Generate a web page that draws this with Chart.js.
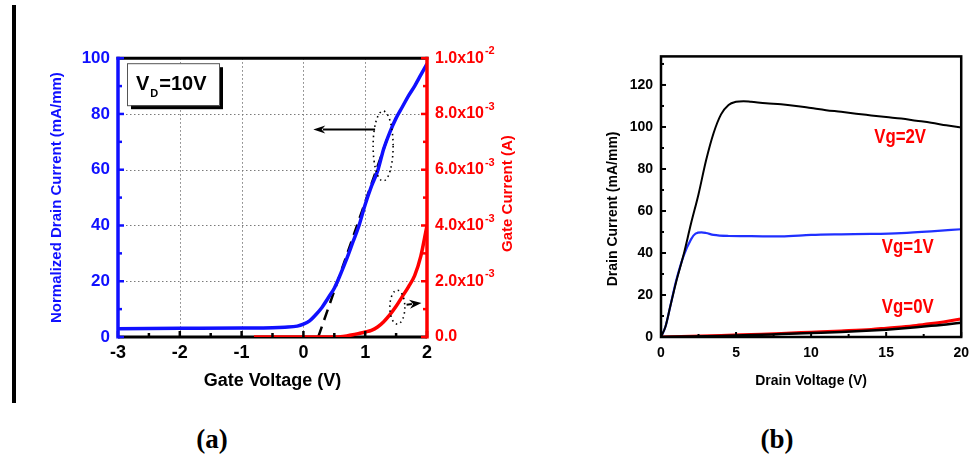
<!DOCTYPE html>
<html>
<head>
<meta charset="utf-8">
<script src="https://cdn.jsdelivr.net/npm/chart.js@4.4.0/dist/chart.umd.min.js"></script>
<style>
    body { margin: 0; background: #fff; width: 977px; height: 458px; position: relative; overflow: hidden; }
    #panelA { position: absolute; left: 20px; top: 40px; }
    #panelB { position: absolute; left: 590px; top: 40px; }
    .rule { position: absolute; left: 12px; top: 5px; width: 4px; height: 398px; background: #000; }
    .cap { position: absolute; top: 424px; width: 60px; text-align: center; font: bold 27px "Liberation Serif", "Times New Roman", serif; color: #000; }
</style>
</head>
<body>
<div class="rule"></div>
<canvas id="panelA" width="520" height="370"></canvas>
<canvas id="panelB" width="387" height="370"></canvas>
<div class="cap" style="left:182px">(a)</div>
<div class="cap" style="left:747px">(b)</div>
<script>
Chart.defaults.font.family = '"Liberation Sans", Arial, sans-serif';
Chart.defaults.plugins.legend.display = false;
Chart.defaults.plugins.tooltip.enabled = false;
Chart.defaults.animation = false;

// ---- (a) transfer characteristics, VD = 10 V ----
const vgDrain = [-3, -2, -1, -0.5, -0.3, -0.1, 0, 0.1, 0.2, 0.3, 0.4, 0.5, 0.6, 0.7, 0.8, 0.9, 1.0, 1.1, 1.2, 1.3, 1.4, 1.5, 1.6, 1.7, 1.8, 1.9, 2.0];
const idNorm = [3.0, 3.1, 3.2, 3.3, 3.5, 3.9, 4.6, 5.8, 8.0, 10.6, 14.0, 17.5, 22.5, 28.0, 34.0, 40.0, 47.5, 54.0, 59.5, 67.5, 73.5, 78.5, 82.5, 86.5, 90.0, 94.0, 98.0];
const vgGate = [-0.8, 0.5, 0.6, 0.7, 0.8, 0.9, 1.0, 1.1, 1.2, 1.3, 1.4, 1.5, 1.6, 1.7, 1.8, 1.9, 2.0];
const igGate = [0, 0, 0.01e-3, 0.04e-3, 0.08e-3, 0.13e-3, 0.18e-3, 0.24e-3, 0.36e-3, 0.55e-3, 0.8e-3, 1.1e-3, 1.45e-3, 1.8e-3, 2.2e-3, 2.9e-3, 4.0e-3];
// linear extrapolation used for the threshold voltage
const vgFit = [0.24, 1.37];
const idFit = [0, 72];

const vgTicks = [-3, -2, -1, 0, 1, 2];
const idTicks = [0, 20, 40, 60, 80, 100];
const igTicks = [0, 2e-3, 4e-3, 6e-3, 8e-3, 1e-2];
const igMantissa = ['0.0', '2.0x10', '4.0x10', '6.0x10', '8.0x10', '1.0x10'];
const igExponent = ['', '-3', '-3', '-3', '-3', '-2'];

// ---- (b) output characteristics ----
const vdSweep = [0, 0.3, 0.6, 1.0, 1.5, 2.0, 2.5, 3.0, 3.5, 4.0, 4.5, 5.0, 5.5, 6, 7, 8, 9, 10, 11, 12, 13, 14, 15, 16, 17, 18, 19, 20];
const idVg2 = [0, 5, 14, 26, 39, 54, 68, 84, 97, 106, 110.5, 112, 112.3, 112, 111.3, 110.8, 110, 109, 108, 107.2, 106.3, 105.5, 104.7, 104, 103, 102, 100.8, 99.7];
const vdSweep1 = [0, 0.3, 0.6, 1.0, 1.5, 2.0, 2.3, 2.7, 3.0, 3.5, 4.5, 6, 8, 10, 12, 14, 16, 18, 20];
const idVg1 = [0, 5, 14, 26.5, 38.5, 46.5, 49.2, 49.8, 49.5, 48.6, 48.1, 48.0, 47.9, 48.6, 48.9, 49.1, 49.5, 50.3, 51.3];
const vdSweep0 = [0, 2, 4, 6, 8, 10, 12, 14, 15, 16, 17, 18, 19, 20];
const idVg0Red = [0, 0.3, 0.7, 1.2, 1.7, 2.3, 2.9, 3.6, 4.2, 4.8, 5.5, 6.4, 7.4, 8.6];
const idVg0Black = [0, 0.2, 0.5, 0.9, 1.4, 1.9, 2.4, 3.1, 3.5, 4.0, 4.6, 5.3, 6.0, 6.8];
const vdTicks = [0, 5, 10, 15, 20];
const idTicksB = [0, 20, 40, 60, 80, 100, 120];
const vgLabels = ['Vg=2V', 'Vg=1V', 'Vg=0V'];
const vgLabelAt = [[15.93, 95.2], [16.44, 42.7], [16.44, 14.0]];

const pts = (xs, ys) => xs.map((x, i) => ({ x: x, y: ys[i] }));
const BLUE = '#1010ff';
const RED = '#ff0000';
const FONT = '"Liberation Sans", Arial, sans-serif';

function hline(ctx, x0, x1, y) { ctx.beginPath(); ctx.moveTo(x0, y); ctx.lineTo(x1, y); ctx.stroke(); }
function vline(ctx, x, y0, y1) { ctx.beginPath(); ctx.moveTo(x, y0); ctx.lineTo(x, y1); ctx.stroke(); }

function arrow(ctx, x0, y0, x1, y1, head, half) {
    const ang = Math.atan2(y1 - y0, x1 - x0);
    const c = Math.cos(ang), s = Math.sin(ang);
    ctx.beginPath();
    ctx.moveTo(x0, y0);
    ctx.lineTo(x1 - c * head * 0.8, y1 - s * head * 0.8);
    ctx.stroke();
    ctx.beginPath();
    ctx.moveTo(x1, y1);
    ctx.lineTo(x1 - c * head - s * half, y1 - s * head + c * half);
    ctx.lineTo(x1 - c * head * 0.7, y1 - s * head * 0.7);
    ctx.lineTo(x1 - c * head + s * half, y1 - s * head - c * half);
    ctx.closePath();
    ctx.fill();
}

function dottedEllipse(ctx, cx, cy, rx, ry) {
    ctx.save();
    ctx.setLineDash([1.5, 3.5]);
    ctx.lineWidth = 1.6;
    ctx.beginPath();
    ctx.ellipse(cx, cy, rx, ry, 0, 0, Math.PI * 2);
    ctx.stroke();
    ctx.restore();
}

// vertical axis title reading bottom to top
function sideTitle(ctx, text, cx, cy, font, color) {
    ctx.save();
    ctx.translate(cx, cy);
    ctx.rotate(-Math.PI / 2);
    ctx.textAlign = 'center';
    ctx.textBaseline = 'middle';
    ctx.font = font;
    ctx.fillStyle = color;
    ctx.fillText(text, 0, 0);
    ctx.restore();
}

const frameA = {
    id: 'frameA',
    beforeDatasetsDraw(chart) {
        const { ctx, chartArea: a, scales: { x, y } } = chart;
        ctx.save();
        ctx.strokeStyle = '#7a7a7a';
        ctx.lineWidth = 1;
        ctx.setLineDash([1.5, 2.5]);
        vgTicks.slice(1, -1).forEach(v => vline(ctx, Math.round(x.getPixelForValue(v)) + 0.5, a.top, a.bottom));
        idTicks.slice(1, -1).forEach(v => hline(ctx, a.left, a.right, Math.round(y.getPixelForValue(v)) + 0.5));
        ctx.setLineDash([]);
        ctx.strokeStyle = '#000';
        ctx.lineWidth = 3;
        hline(ctx, a.left, a.right, a.bottom);
        ctx.restore();
    },
    afterDatasetsDraw(chart) {
        const { ctx, chartArea: a, scales: { x, y, y2 } } = chart;
        ctx.save();
        // axes
        ctx.lineWidth = 3;
        ctx.strokeStyle = '#000';
        hline(ctx, a.left - 1.5, a.right + 1.5, a.top);
        ctx.lineWidth = 2.5;
        for (let v = -3; v <= 2.001; v += 0.5) {
            vline(ctx, x.getPixelForValue(v), a.bottom, a.bottom - (Number.isInteger(v) ? 6 : 4));
        }
        ctx.strokeStyle = BLUE;
        ctx.lineWidth = 3.5;
        vline(ctx, a.left, a.top - 1.5, a.bottom + 1.5);
        ctx.lineWidth = 2.5;
        for (let v = 0; v <= 100; v += 10) {
            hline(ctx, a.left, a.left + (v % 20 === 0 ? 6 : 4), y.getPixelForValue(v));
        }
        ctx.strokeStyle = RED;
        ctx.lineWidth = 3.5;
        vline(ctx, a.right, a.top - 1.5, a.bottom + 1.5);
        ctx.lineWidth = 2.5;
        for (let i = 0; i <= 10; i++) {
            hline(ctx, a.right, a.right - (i % 2 === 0 ? 6 : 4), y2.getPixelForValue(i * 1e-3));
        }

        // gate current tick labels with raised exponents, and the axis title
        ctx.fillStyle = RED;
        ctx.textBaseline = 'middle';
        igTicks.forEach((v, i) => {
            const py = y2.getPixelForValue(v);
            const lx = a.right + 8;
            ctx.font = 'bold 16px ' + FONT;
            ctx.fillText(igMantissa[i], lx, py);
            if (igExponent[i]) {
                const w = ctx.measureText(igMantissa[i]).width;
                ctx.font = 'bold 11px ' + FONT;
                ctx.fillText(igExponent[i], lx + w + 1, py - 7);
            }
        });
        sideTitle(ctx, 'Gate Current (A)', a.right + 81, (a.top + a.bottom) / 2 - 4, 'bold 15px ' + FONT, RED);

        // arrows and dotted loops marking which axis each curve belongs to
        ctx.strokeStyle = '#000';
        ctx.fillStyle = '#000';
        ctx.lineWidth = 2;
        arrow(ctx, x.getPixelForValue(1.16), y.getPixelForValue(74.4), x.getPixelForValue(0.16), y.getPixelForValue(74.4), 12, 4);
        arrow(ctx, x.getPixelForValue(1.67), y.getPixelForValue(11.6), x.getPixelForValue(1.91), y.getPixelForValue(12.2), 12, 4.5);
        dottedEllipse(ctx, x.getPixelForValue(1.29), y.getPixelForValue(68.5), 10, 35);
        dottedEllipse(ctx, x.getPixelForValue(1.52), y.getPixelForValue(10.7), 7.5, 17);

        // VD label box with drop shadow
        const bx = a.left + 9, by = a.top + 5, bw = 92, bh = 42;
        ctx.fillStyle = '#000';
        ctx.fillRect(bx + 4, by + 4, bw, bh);
        ctx.fillStyle = '#fff';
        ctx.fillRect(bx, by, bw, bh);
        ctx.strokeStyle = '#555';
        ctx.lineWidth = 1;
        ctx.strokeRect(bx + 0.5, by + 0.5, bw, bh);
        ctx.fillStyle = '#000';
        ctx.textBaseline = 'alphabetic';
        ctx.font = 'bold 20px ' + FONT;
        let tx = bx + 9;
        ctx.fillText('V', tx, by + 27);
        tx += ctx.measureText('V').width + 1;
        ctx.font = 'bold 11px ' + FONT;
        ctx.fillText('D', tx, by + 34);
        tx += ctx.measureText('D').width + 1;
        ctx.font = 'bold 20px ' + FONT;
        ctx.fillText('=10V', tx, by + 27);
        ctx.restore();
    }
};

new Chart(document.getElementById('panelA'), {
    type: 'line',
    data: {
        datasets: [{
            label: 'Gate current',
            data: pts(vgGate, igGate),
            yAxisID: 'y2',
            borderColor: RED,
            borderWidth: 3.5,
            pointRadius: 0,
            cubicInterpolationMode: 'monotone'
        }, {
            label: 'Drain current',
            data: pts(vgDrain, idNorm),
            yAxisID: 'y',
            borderColor: BLUE,
            borderWidth: 3.5,
            pointRadius: 0,
            cubicInterpolationMode: 'monotone'
        }, {
            label: 'Linear fit',
            data: pts(vgFit, idFit),
            yAxisID: 'y',
            borderColor: '#000',
            borderWidth: 2.5,
            borderDash: [11, 7],
            pointRadius: 0
        }]
    },
    options: {
        responsive: false,
        layout: { padding: { top: 12, left: 0, right: 0, bottom: 0 } },
        scales: {
            x: {
                type: 'linear',
                min: -3,
                max: 2,
                afterFit: s => { s.height = 73; },
                afterBuildTicks: s => { s.ticks = vgTicks.map(v => ({ value: v })); },
                grid: { display: false, drawTicks: false },
                border: { display: false },
                ticks: { color: '#000', font: { size: 18, weight: 'bold' }, padding: 5 },
                title: { display: true, text: 'Gate Voltage (V)', color: '#000', font: { size: 18, weight: 'bold' }, padding: { top: 0, bottom: 18 } }
            },
            y: {
                type: 'linear',
                position: 'left',
                min: 0,
                max: 100,
                afterFit: s => { s.width = 98; },
                afterBuildTicks: s => { s.ticks = idTicks.map(v => ({ value: v })); },
                grid: { display: false, drawTicks: false },
                border: { display: false },
                ticks: { color: BLUE, font: { size: 17, weight: 'bold' }, padding: 8 },
                title: { display: true, text: 'Normalized Drain Current (mA/mm)', color: BLUE, font: { size: 15, weight: 'bold' }, padding: { top: 28, bottom: 0 } }
            },
            y2: {
                type: 'linear',
                position: 'right',
                min: 0,
                max: 1e-2,
                afterFit: s => { s.width = 113; },
                grid: { display: false, drawTicks: false },
                border: { display: false },
                ticks: { display: false }
            }
        }
    },
    plugins: [frameA]
});

const frameB = {
    id: 'frameB',
    afterDatasetsDraw(chart) {
        const { ctx, chartArea: a, scales: { x, y } } = chart;
        ctx.save();
        ctx.strokeStyle = '#000';
        ctx.lineWidth = 2.5;
        ctx.strokeRect(a.left, a.top, a.right - a.left, a.bottom - a.top);
        ctx.lineWidth = 2;
        for (let v = 0; v <= y.max; v += 10) {
            hline(ctx, a.left, a.left + (v % 20 === 0 ? 5 : 3), y.getPixelForValue(v));
        }
        for (let v = 0; v <= 20; v += 2.5) {
            vline(ctx, x.getPixelForValue(v), a.bottom, a.bottom - (v % 5 === 0 ? 5 : 3));
        }
        sideTitle(ctx, 'Drain Current (mA/mm)', 23, y.getPixelForValue(61), 'bold 14px ' + FONT, '#000');
        // gate bias labels, set in a narrow face
        ctx.fillStyle = RED;
        ctx.font = 'bold 21px ' + FONT;
        ctx.textAlign = 'center';
        ctx.textBaseline = 'middle';
        vgLabels.forEach((t, i) => {
            ctx.save();
            ctx.translate(x.getPixelForValue(vgLabelAt[i][0]), y.getPixelForValue(vgLabelAt[i][1]));
            ctx.scale(0.8, 1);
            ctx.fillText(t, 0, 0);
            ctx.restore();
        });
        ctx.restore();
    }
};

new Chart(document.getElementById('panelB'), {
    type: 'line',
    data: {
        datasets: [{
            label: 'Vg=2V',
            data: pts(vdSweep, idVg2),
            borderColor: '#000',
            borderWidth: 2,
            pointRadius: 0,
            cubicInterpolationMode: 'monotone'
        }, {
            label: 'Vg=0V (repeat)',
            data: pts(vdSweep0, idVg0Black),
            borderColor: '#000',
            borderWidth: 2.5,
            pointRadius: 0,
            cubicInterpolationMode: 'monotone'
        }, {
            label: 'Vg=0V',
            data: pts(vdSweep0, idVg0Red),
            borderColor: RED,
            borderWidth: 3,
            pointRadius: 0,
            cubicInterpolationMode: 'monotone'
        }, {
            label: 'Vg=1V',
            data: pts(vdSweep1, idVg1),
            borderColor: '#2030ff',
            borderWidth: 2.2,
            pointRadius: 0,
            cubicInterpolationMode: 'monotone'
        }]
    },
    options: {
        responsive: false,
        layout: { padding: { top: 12, left: 0, right: 10, bottom: 0 } },
        scales: {
            x: {
                type: 'linear',
                min: 0,
                max: 20,
                afterFit: s => { s.height = 73; },
                afterBuildTicks: s => { s.ticks = vdTicks.map(v => ({ value: v })); },
                grid: { display: false, drawTicks: false },
                border: { display: false },
                ticks: { color: '#000', font: { size: 14, weight: 'bold' }, padding: 8 },
                title: { display: true, text: 'Drain Voltage (V)', color: '#000', font: { size: 14, weight: 'bold' }, padding: { top: 0, bottom: 20 } }
            },
            y: {
                type: 'linear',
                min: 0,
                max: 133.6,
                afterFit: s => { s.width = 71; },
                afterBuildTicks: s => { s.ticks = idTicksB.map(v => ({ value: v })); },
                grid: { display: false, drawTicks: false },
                border: { display: false },
                ticks: { color: '#000', font: { size: 14, weight: 'bold' }, padding: 8 }
            }
        }
    },
    plugins: [frameB]
});
</script>
</body>
</html>
